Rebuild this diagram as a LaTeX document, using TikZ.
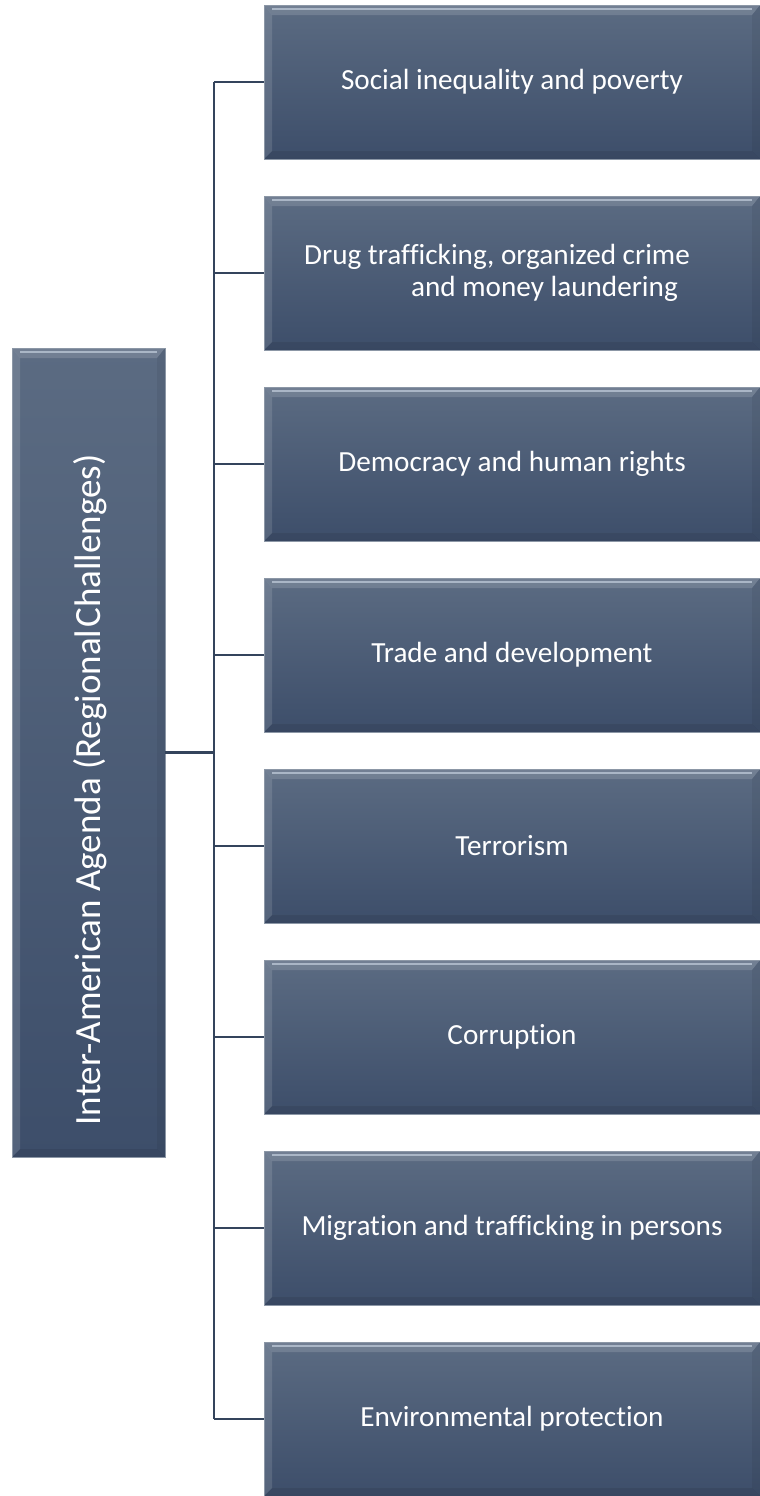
\documentclass[tikz,border=0pt]{standalone}
\usepackage{fontspec}
\setmainfont{Carlito}[Ligatures=NoCommon]

\definecolor{slatetop}{HTML}{5B6B82}
\definecolor{slatebot}{HTML}{3D4E6A}
\definecolor{slateline}{HTML}{34445C}
\definecolor{slateedge}{HTML}{8C97A6}
\definecolor{slateshine}{HTML}{B9C4D3}

\tikzset{
  % raised edge drawn inside every box
  bevel/.style={path picture={
    \fill[white, opacity=0.14] (path picture bounding box.north west) -- (path picture bounding box.north east)
      -- ([shift={(-4pt,-5pt)}]path picture bounding box.north east) -- ([shift={(4pt,-5pt)}]path picture bounding box.north west) -- cycle;
    \fill[white, opacity=0.12] (path picture bounding box.north west) -- ([shift={(4pt,-5pt)}]path picture bounding box.north west)
      -- ([shift={(4pt,4pt)}]path picture bounding box.south west) -- (path picture bounding box.south west) -- cycle;
    \fill[black, opacity=0.08] (path picture bounding box.south west) -- (path picture bounding box.south east)
      -- ([shift={(-4pt,4pt)}]path picture bounding box.south east) -- ([shift={(4pt,4pt)}]path picture bounding box.south west) -- cycle;
    \fill[black, opacity=0.06] (path picture bounding box.north east) -- (path picture bounding box.south east)
      -- ([shift={(-4pt,4pt)}]path picture bounding box.south east) -- ([shift={(-4pt,-5pt)}]path picture bounding box.north east) -- cycle;
    \draw[slateshine, line width=1pt, opacity=0.8] ([shift={(4pt,-2pt)}]path picture bounding box.north west) -- ([shift={(-4pt,-2pt)}]path picture bounding box.north east);
  }},
  box/.style={bevel, draw=slateedge, line width=0.4pt, top color=slatetop, bottom color=slatebot, inner sep=0pt},
  topic/.style={box, minimum width=248pt, minimum height=77pt, text=white, align=left,
    font=\fontsize{14.6}{16}\selectfont},
  hub/.style={box, minimum width=76.5pt, minimum height=404.5pt},
  hubtext/.style={text=white, inner sep=0pt, font=\fontsize{18.5}{20}\selectfont},
  link/.style={draw=slateline, line width=1pt},
}

\begin{document}
\begin{tikzpicture}[x=1pt, y=1pt]
  \useasboundingbox (0,0) rectangle (380,-748);
  \coordinate (trunk) at (107,0);

  % agenda box on the left
  \node[hub] (agenda) at (44.25,-376.25) {};
  \node[hubtext, rotate=90] (agendatext) at (45,-395) {Inter-American Agenda (Regional\hspace{0.06em}Challenges)};

  % challenge boxes
  \foreach \t [count=\n] in {Social inequality and poverty, {Drug trafficking, organized crime\hspace*{15pt}\\\hspace*{53.5pt}and money laundering}, Democracy and human rights, Trade and development, Terrorism, Corruption, Migration and trafficking in persons, Environmental protection} {
    \node[topic] (t\n) at (256,{-95.5*\n+54.5}) {\t};
  }

  % connectors
  \draw[link, line width=1.6pt] (agenda.east) -- (agenda.east -| trunk);
  \draw[link] (trunk |- t1.west) -- (trunk |- t8.west);
  \foreach \n in {1,...,8} {
    \draw[link] (trunk |- t\n.west) -- (t\n.west);
  }
\end{tikzpicture}
\end{document}
